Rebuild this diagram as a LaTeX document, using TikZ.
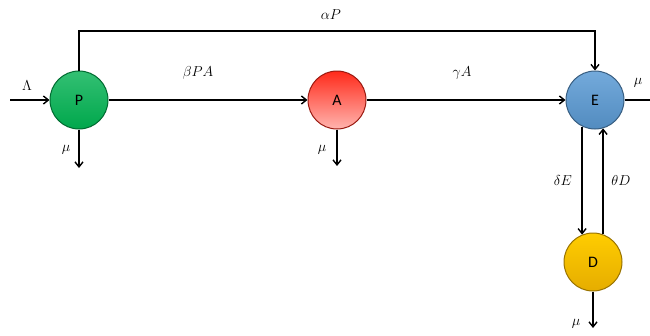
\documentclass[tikz,border=0pt]{standalone}
\usepackage{fontspec}
\newfontfamily\nodefont{Carlito}
\usetikzlibrary{arrows.meta}
\definecolor{pgreen}{HTML}{00B050}
\definecolor{ared}{HTML}{FF2A1A}
\definecolor{ablue}{HTML}{5B9BD5}
\definecolor{dgold}{HTML}{FFC000}
\tikzset{
  comp/.style={circle, minimum size=58pt, inner sep=0pt, line width=1pt, font=\nodefont\fontsize{16}{16}\selectfont},
  flow/.style={line width=1.4pt, -{Straight Barb[length=5pt,width=8pt,line width=1.4pt]}},
  plain/.style={line width=1.4pt},
  lab/.style={font=\fontsize{14}{14}\selectfont}
}
\begin{document}
\begin{tikzpicture}[x=1pt,y=-1pt]
\useasboundingbox (0,0) rectangle (650,335);
\node[comp, draw=pgreen!60!black, top color=pgreen!80!white, bottom color=pgreen!95!black] (P) at (79,100) {P};
\node[comp, draw=ared!60!black, top color=ared, bottom color=ared!35!white] (A) at (337,100) {A};
\node[comp, draw=ablue!60!black, top color=ablue!85!white, bottom color=ablue!90!black] (E) at (595,100) {E};
\node[comp, draw=dgold!60!black, top color=dgold!80!yellow, bottom color=dgold!90!black] (D) at (593,262) {D};
\coordinate (lin) at (10,100);
\coordinate (pout) at (79,168);
\coordinate (aout) at (337,166);
\coordinate (eout) at (650,100);
\coordinate (dout) at (593,328);
\coordinate (tl) at (79,31);
\coordinate (tr) at (595,31);
\draw[flow] (lin) -- (P.west);
\draw[flow] (P.south) -- (pout);
\draw[flow] (A.south) -- (aout);
\draw[plain] (E.east) -- (eout);
\draw[flow] (D.south) -- (dout);
\draw[flow] (P.east) -- (A.west);
\draw[flow] (A.east) -- (E.west);
\draw[flow] (P.north) -- (tl) -- (tr) -- (E.north);
\draw[flow] (E.-116.6) -- (E.-116.6 |- D.112.3);
\draw[flow] (D.70.2) -- (D.70.2 |- E.-74);
\node[lab] (l1) at (27,86) {$\Lambda$};
\node[lab] (l2) at (66,150) {$\mu$};
\node[lab] (l3) at (322,150) {$\mu$};
\node[lab] (l4) at (638,83) {$\mu$};
\node[lab] (l5) at (576,324) {$\mu$};
\node[lab] (l6) at (198,73) {$\beta PA$};
\node[lab] (l7) at (462,73) {$\gamma A$};
\node[lab] (l8) at (331,15) {$\alpha P$};
\node[lab] (l9) at (563,180) {$\delta E$};
\node[lab] (l10) at (621,180) {$\theta D$};
\end{tikzpicture}
\end{document}
